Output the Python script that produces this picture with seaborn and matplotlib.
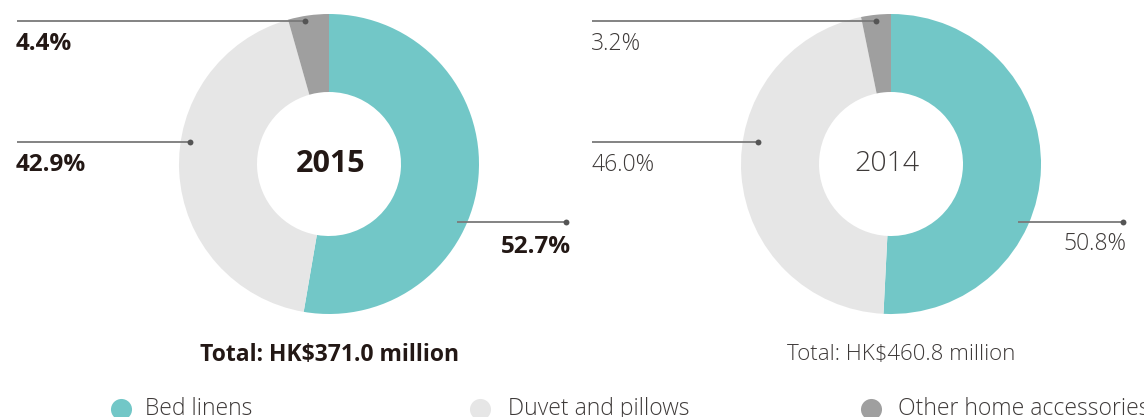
import matplotlib
matplotlib.use("Agg")
import matplotlib.pyplot as plt
import seaborn as sns

years = ["2015", "2014"]
categories = ["Bed linens", "Duvet and pillows", "Other home accessories"]
shares_2015 = [52.7, 42.9, 4.4]
shares_2014 = [50.8, 46.0, 3.2]
totals = [371.0, 460.8]
colors = ["#72C7C7", "#E6E6E6", "#9F9F9F"]

sns.set_theme(style="white")
plt.rcParams['font.family'] = ['Open Sans', 'DejaVu Sans']

W, H = 1144, 417
fig = plt.figure(figsize=(W / 100, H / 100), dpi=100)
ax = fig.add_axes([0, 0, 1, 1])

def Y(y):
    return H - y

dark = "#231815"
light = "#3e3a39"
linec = "#7a7a7a"

charts = [
    dict(cx=329, shares=shares_2015, year=years[0], total=totals[0], weight="bold", color=dark,
         ydx=2, tdx=1, yfs=22, tfs=16.5, pfs=17.5,
         labels=[(17, 305, 20.7, 'left'), (17, 190, 141.7, 'left'), (457, 566, 221.7, 'right')],
         text=[(16, 50), (16, 170.5), (571, 253)]),
    dict(cx=891, shares=shares_2014, year=years[1], total=totals[1], weight="light", color=light,
         ydx=-4, tdx=10, yfs=20.5, tfs=16, pfs=16.5,
         labels=[(592, 876, 20.7, 'left'), (592, 758, 141.7, 'left'), (1018, 1123, 221.7, 'right')],
         text=[(591, 50), (591, 170.5), (1126, 250)]),
]

order = [2, 1, 0]  # label order: other, duvet, bed
for c in charts:
    ax.pie(c["shares"], colors=colors, startangle=90, counterclock=False,
           center=(c["cx"], Y(164)), radius=150,
           wedgeprops=dict(width=78, edgecolor="none"))

ax.set_xlim(0, W)
ax.set_ylim(0, H)
ax.set_aspect("auto")
ax.axis("off")

for c in charts:
    ax.text(c["cx"] + c["ydx"], Y(164), c["year"], ha="center", va="center",
            fontsize=c["yfs"], fontweight=c["weight"], color=c["color"])
    ax.text(c["cx"] + c["tdx"], Y(355), f"Total: HK${c['total']:.1f} million", ha="center",
            va="center", fontsize=c["tfs"], fontweight=c["weight"], color=c["color"])
    for k, idx in enumerate(order):
        x0, x1, ly, side = c["labels"][k]
        ax.plot([x0, x1], [Y(ly), Y(ly)], color=linec, lw=1.3, solid_capstyle="butt")
        ax.scatter([x1], [Y(ly)], s=18, color="#555555", zorder=5, linewidths=0)
        tx, ty = c["text"][k]
        ax.text(tx, Y(ty), f"{c['shares'][idx]:.1f}%", ha=side, va="baseline",
                fontsize=c["pfs"], fontweight=c["weight"], color=c["color"])

legend_pos = [(121, 145), (480, 508), (871, 898)]
for (cxp, txp), col, lab in zip(legend_pos, colors, categories):
    ax.scatter([cxp], [Y(409)], s=230, color=col, linewidths=0)
    ax.text(txp, Y(415), lab, ha="left", va="baseline", fontsize=16.5,
            fontweight="light", color=light)

ax.set_xlim(0, W)
ax.set_ylim(0, H)
fig.savefig("out.png", dpi=100)
